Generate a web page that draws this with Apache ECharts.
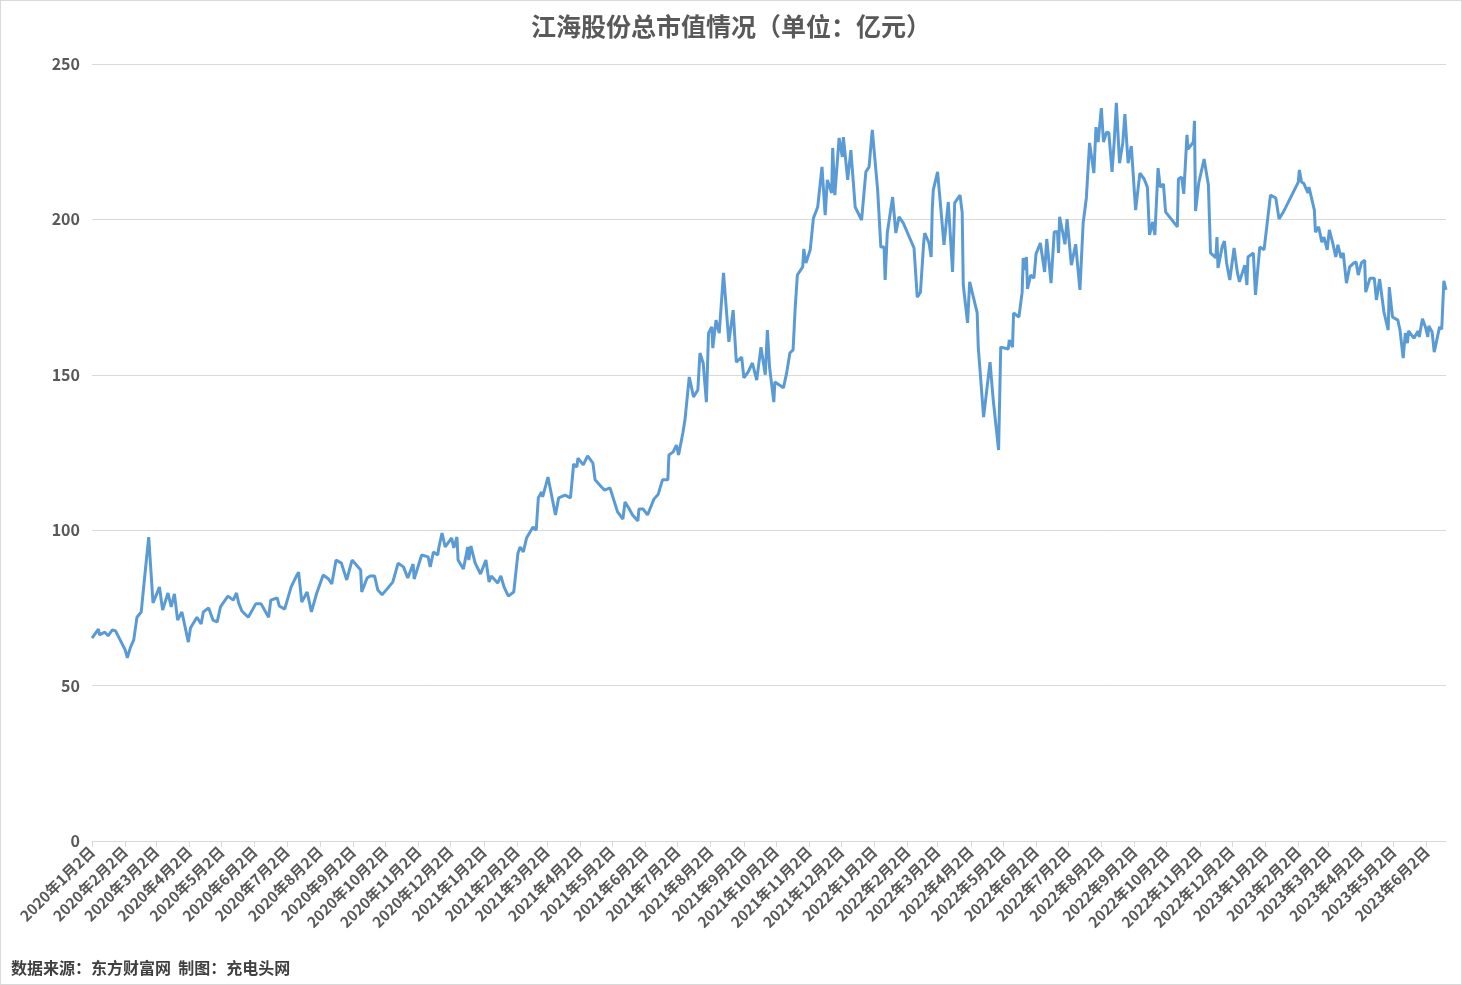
<!DOCTYPE html>
<head>
<meta charset="utf-8">
<title>江海股份总市值情况</title>
<script src="https://cdn.jsdelivr.net/npm/echarts@6/dist/echarts.min.js"></script>
<style>
  html, body { margin: 0; padding: 0; background: #fff; }
  #main { width: 1460px; height: 983px; border: 1px solid #d9d9d9; }
</style>
</head>
<body>
<div id="main"></div>
<script type="text/javascript">
// x: days since 2020-01-02, y: market cap (亿元)
var dayOffsets = [
  0,6,7,12,15,19,22,31,33,36,39,42,46,49,50,53,57,63,66,71,74,77,80,84,90,92,98,102,104,109,113,117,120,127,132,135,137,140,146,153,158,165,167,173,175,180,186,191,193,196,201,205,210,216,221,224,228,233,238,243,251,252,257,260,264,267,271,281,286,291,295,300,301,308,314,316,319,323,324,327,330,336,338,341,342,347,351,352,354,358,363,368,371,373,379,382,385,389,394,398,400,403,406,412,415,417,420,421,424,
  426,433,436,442,447,450,453,454,459,463,468,470,476,479,484,491,496,498,502,505,510,511,515,519,525,529,533,538,539,543,546,548,552,554,558,562,566,568,571,574,576,579,580,583,586,590,595,599,602,607,609,613,617,621,625,629,631,633,637,638,646,649,652,655,657,659,664,665,667,671,674,678,682,685,687,691,692,694,698,701,702,706,709,713,719,723,726,729,734,737,740,741,743,748,751,754,758,768,771,774,777,778,782,784,785,786,790,796,800,804,806,811,813,814,818,820,827,828,833,839,842,847,849,
  850,856,857,860,861,866,869,870,871,873,874,877,880,882,886,890,892,896,899,902,903,904,907,909,911,915,919,923,926,929,932,936,938,940,943,945,948,950,953,955,957,960,963,965,968,971,975,979,983,986,988,991,993,996,998,1001,1003,1014,1015,1018,1020,1023,1024,1029,1030,1031,1034,1039,1043,1045,1050,1051,1052,1056,1058,1060,1063,1067,1070,1072,1077,1079,1080,1085,1087,1091,1095,1101,1106,1109,1113,1115,1127,1128,1130,1132,1136,1137,1142,1143,1146,1149,1151,1154,1156,1159,1162,1164,1167,1169,1172,1175,1179,1181,1183,1186,1189,1190,1194,1198,1200,1203,1207,1211,1212,1215,1220,1222,1225,1227,1229,1230,1235,1239,1240,1243,1246,1248,1249,1252,1254,1259,1261,1263,1265
];
var marketCap = [
  65.3,68.2,66.3,67.2,66,67.9,67.6,61.5,58.9,62.4,64.7,72,73.7,84.3,84.6,97.8,76.6,81.7,74.3,79.8,75.3,79.5,71.1,73.7,64,68.5,72,69.8,73.7,75,71.1,70.5,75.3,78.8,77.5,79.8,76.6,74,72,76.3,76.3,72,77.5,78.2,75.6,74.6,81.7,85.3,86.5,76.9,80.1,73.7,79.8,85.6,84.3,82.7,90.4,89.4,84,90.4,87.2,80.1,84.6,85.3,85.3,80.8,79.2,83.3,89.4,88.2,84.6,89.1,84.3,92,91.4,88.2,93,92,94.3,99.1,94.6,97.5,94.3,97.8,90.4,87.5,94.6,90.4,94.9,89.4,85.9,90.4,83.3,85.3,83,85.3,81.7,78.8,80.1,92.7,94.6,93,97.5,101,100,110.4,112.3,110.7,114.5,
  117.1,104.9,110.4,111.3,110.4,121.3,120.3,123.2,121,123.9,121.6,116.2,113.9,112.9,113.6,105.9,103.6,109.1,106.8,104.9,103,106.8,106.8,104.9,110,111.6,116.2,116.2,124.2,125.2,127.4,124.2,131.3,135.5,149.3,142.9,145.1,157,153.8,141.2,163.4,165.4,158.6,167.6,163.4,182.8,160.6,170.8,154.1,155.7,149,150.9,153.8,148.3,158.9,150,164.4,152.5,141.2,147.7,145.8,150.6,157,158,171.8,182.1,184.7,190.5,186,190.2,200.4,204,216.9,201.4,212.7,208.5,223,207.8,226.2,220.1,226.5,212.7,222.3,204,199.8,215.3,216.9,228.8,209.5,191.1,191.1,180.5,195.6,207.2,195.6,200.8,198.8,190.8,175,176.6,192.4,195.6,192.4,187.9,203,209.5,215.3,191.8,205.6,183.1,205.3,207.8,202.1,178.9,166.7,179.9,169.9,158.9,136.4,154.1,141.9,125.8,158.9,
  158.9,158.3,161.2,158.9,169.9,168.6,176.6,187.6,183.7,187.9,177.6,182.1,181.1,188.9,192.4,183.1,193.7,179.5,196,196,189.2,200.8,195.6,192,200.1,185.3,192,177.3,198.8,206.9,224.6,214.9,229.7,224.9,235.8,224.9,228.1,227.8,215.3,224.9,237.5,218.1,224.6,233.9,218.1,223.6,203,214.9,213,210.4,195,199.2,195,216.5,210.4,211.4,202.4,197.6,213,213.6,208.2,227.2,222.6,224.9,231.7,202.7,211.7,219.4,211.1,189.2,187.6,194.3,184.4,191.4,193,186,180.5,190.8,183.1,179.9,185.3,178.9,187.9,189.2,175.7,191.1,190.2,207.8,206.9,200.1,202.4,203.7,212,215.9,212,211.7,208.5,210.4,203,195.9,197.6,192.7,194.3,190.2,196.6,192.7,187.9,191.8,187.6,189.2,179.5,184.7,186,186.3,182.1,186,186.9,176.6,181.1,181.1,174.1,180.8,170.2,164.4,178.2,168.6,167.6,164.4,155.4,163.4,160.2,164.1,161.8,164.1,162.2,168,165.1,162.2,165.7,163.8,157.3,165.4,164.7,180.2,177.3
];
var yTicks = [0, 50, 100, 150, 200, 250];

var DAY = 86400000;
var start = Date.UTC(2020, 0, 2);
var monthTicks = [];
for (var y = 2020; y <= 2023; y++) {
  for (var m = 0; m < 12; m++) {
    if (y === 2023 && m > 5) break;
    monthTicks.push(Math.round((Date.UTC(y, m, 2) - start) / DAY));
  }
}
function dayLabel(v) {
  var d = new Date(start + v * DAY);
  return d.getUTCFullYear() + '年' + (d.getUTCMonth() + 1) + '月' + d.getUTCDate() + '日';
}
var points = [];
for (var i = 0; i < dayOffsets.length; i++) points.push([dayOffsets[i], marketCap[i]]);

var myChart = echarts.init(document.getElementById('main'));
var option = {
  backgroundColor: '#fff',
  title: {
    text: '江海股份总市值情况（单位：亿元）',
    left: 'center', top: 8,
    textStyle: { fontFamily: 'Noto Sans CJK SC', fontSize: 25, fontWeight: 'bold', color: '#595959' }
  },
  graphic: [{
    type: 'text', left: 10, top: 959,
    style: { text: '数据来源：东方财富网  制图：充电头网', font: 'bold 16px "Noto Sans CJK SC"', fill: '#404040' }
  }],
  grid: { left: 91, right: 15, top: 63, bottom: 143 },
  xAxis: {
    type: 'value', min: 0, max: 1265,
    axisLine: { lineStyle: { color: '#d9d9d9' } },
    axisTick: { show: true, customValues: monthTicks, length: 6, lineStyle: { color: '#d9d9d9' } },
    splitLine: { show: false },
    axisLabel: {
      customValues: monthTicks, rotate: 45, formatter: dayLabel,
      fontFamily: 'Noto Sans CJK SC', fontSize: 15, fontWeight: 'bold', color: '#595959', margin: 8
    }
  },
  yAxis: {
    type: 'value', min: yTicks[0], max: yTicks[yTicks.length - 1], interval: 50,
    axisLine: { show: false }, axisTick: { show: false },
    splitLine: { lineStyle: { color: '#d9d9d9' } },
    axisLabel: { fontFamily: 'Noto Sans CJK SC', fontSize: 16, fontWeight: 'bold', color: '#595959', margin: 12 }
  },
  series: [{
    type: 'line', data: points, showSymbol: false, animation: false,
    lineStyle: { color: '#5B9BD5', width: 3 }, itemStyle: { color: '#5B9BD5' }
  }]
};
myChart.setOption(option);
</script>
</body>
